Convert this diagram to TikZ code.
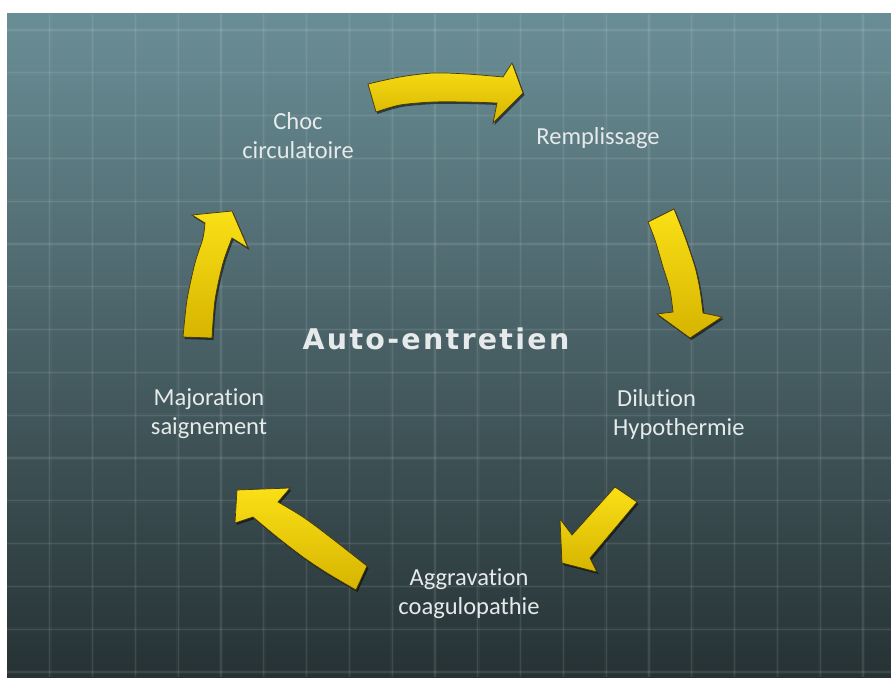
\documentclass[tikz,border=0pt]{standalone}
\usepackage{fontspec}
\setmainfont{Carlito}[Ligatures=NoCommon]
\newfontfamily\titlefont[LetterSpace=8, Ligatures=NoCommon]{DejaVu Sans}
\usetikzlibrary{shadows}
\definecolor{bgtop}{RGB}{106,142,150}
\definecolor{bgmid}{RGB}{68,92,98}
\definecolor{bgbot}{RGB}{38,50,52}
\definecolor{labelc}{RGB}{230,234,234}
\definecolor{arrowA}{RGB}{250,224,22}
\definecolor{arrowB}{RGB}{214,180,0}
\definecolor{arrowline}{RGB}{70,55,10}
\begin{document}
\begin{tikzpicture}[x=1pt,y=-1pt,
  gridline/.style={draw=white, opacity=0.08, line width=1.2pt},
  gridglow/.style={draw=white, opacity=0.03, line width=3.5pt},
  lbl/.style={font=\fontsize{24.5}{29}\selectfont, text=labelc, align=center, inner sep=0pt},
  titlelbl/.style={font=\titlefont\bfseries\fontsize{28.5}{34}\selectfont, text=labelc, inner sep=0pt},
  cyclearrow/.style={draw=arrowline, line width=0.7pt, top color=arrowA, bottom color=arrowB,
    drop shadow={shadow xshift=1.5pt, shadow yshift=-2pt, opacity=0.55, fill=black}}]
\useasboundingbox (0,0) rectangle (891,677);
\fill[white] (0,0) rectangle (891,677);
\shade[top color=bgtop, middle color=bgmid, bottom color=bgbot] (7,14) rectangle (891,677);
% grid
\begin{scope}
\clip (7,14) rectangle (891,677);
\foreach \i in {1,...,20} {
  \draw[gridglow] ({7+42.8*\i},14) -- ({7+42.8*\i},677);
  \draw[gridline] ({7+42.8*\i},14) -- ({7+42.8*\i},677);
}
\foreach \j in {0,...,15} {
  \draw[gridglow] (7,{30+42.8*\j}) -- (891,{30+42.8*\j});
  \draw[gridline] (7,{30+42.8*\j}) -- (891,{30+42.8*\j});
}
\end{scope}
% arrows
\path[cyclearrow] (368,84) -- plot[smooth] coordinates {(368,84) (400,77) (433,73) (467,74) (503,77)}
  -- (512,63) -- (523,93) -- (493,123) -- (497,103)
  -- plot[smooth] coordinates {(497,103) (467,102) (433,102) (400,105) (376,112)} -- cycle;
\path[cyclearrow] (648,222) -- (674,209) -- plot[smooth] coordinates {(674,209) (685,237) (695,267) (700,290) (703,313)}
  -- (722,317) -- (690,338) -- (657,314) -- (673,312)
  -- plot[smooth] coordinates {(673,312) (670,290) (663,267) (655,240) (648,222)} -- cycle;
\path[cyclearrow] (615,487) -- (637,502) -- (590,558) -- (597,572) -- (562,563) -- (560,519) -- (572,535) -- cycle;
\path[cyclearrow] (367,566) -- (356,590) -- plot[smooth] coordinates {(356,590) (327,573) (303,557) (277,537) (253,517)}
  -- (235,523) -- (237,490) -- (290,488) -- (278,502)
  -- plot[smooth] coordinates {(278,502) (303,517) (330,537) (367,566)} -- cycle;
\path[cyclearrow] (183,337) -- plot[smooth] coordinates {(183,337) (187,300) (195,263) (203,238) (205,223)}
  -- (192,215) -- (232,211) -- (248,248) -- (232,238)
  -- plot[smooth] coordinates {(232,238) (223,263) (215,300) (212,338)} -- cycle;
% labels
\node[lbl] (choc) at (298,136) {Choc\\circulatoire};
\node[lbl] (rempl) at (598,138) {Remplissage};
\node[lbl, align=left, anchor=west] (dil) at (613,414) {\hspace{4pt}Dilution\\Hypothermie};
\node[lbl] (aggr) at (469,594) {Aggravation\\coagulopathie};
\node[lbl] (major) at (209,414) {Majoration\\saignement};
\node[titlelbl] (auto) at (436,339) {Auto-entretien};
\end{tikzpicture}
\end{document}
